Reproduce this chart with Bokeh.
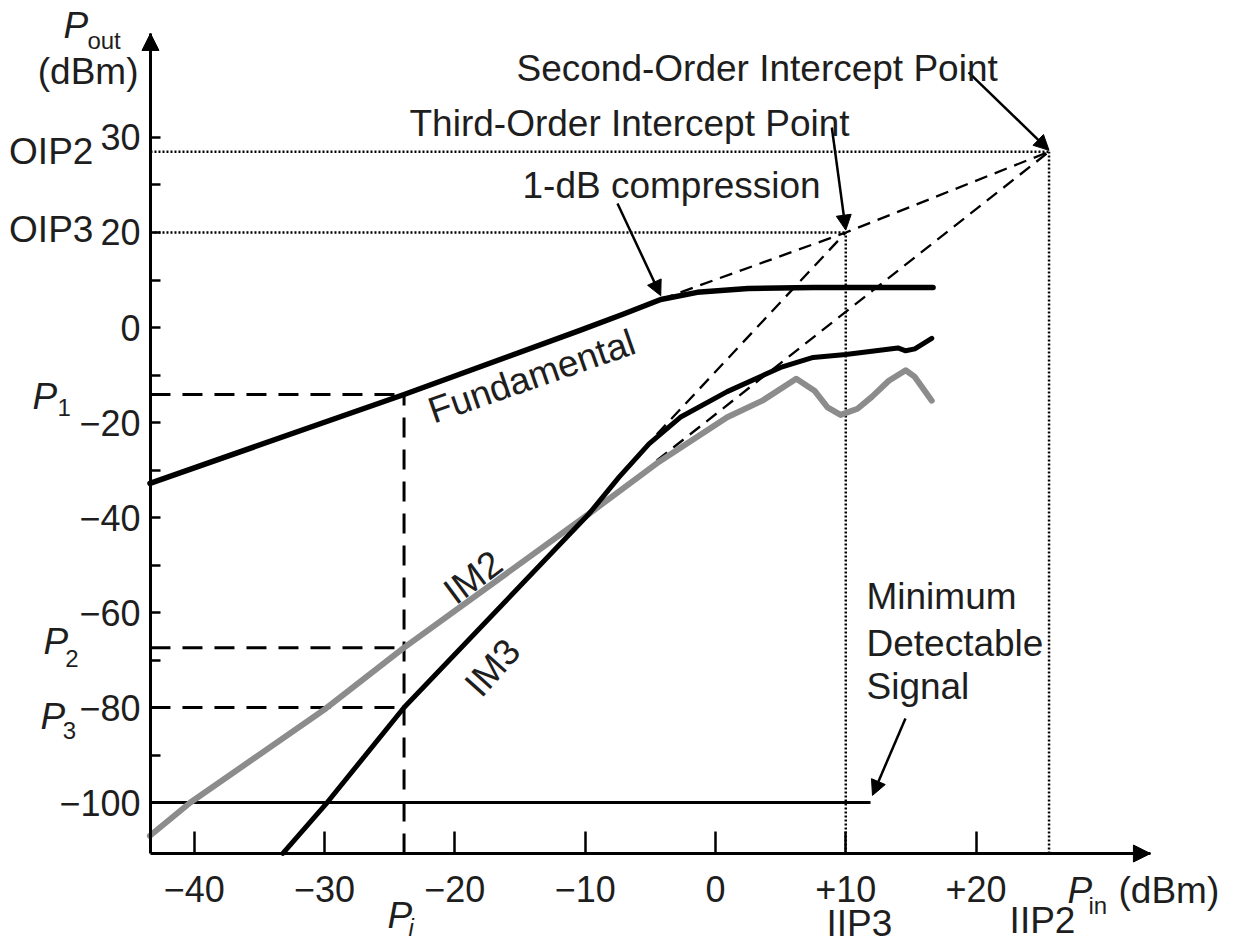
from bokeh.plotting import figure
from bokeh.models import Range1d, FixedTicker, Label, Arrow, NormalHead
from bokeh.embed import file_html
from bokeh.resources import INLINE

# ---------------- data (dBm) ----------------
fund_pin  = [-43.4, -23.9, -10.4, -7.1, -4.2, -1.4, 2.5, 7.5, 16.7]
fund_pout = [-32.8, -14.1, -0.6, 2.8, 5.9, 7.4, 8.2, 8.4, 8.4]

im2_pin  = [-43.4, -40.3, -29.9, -23.9, -9.7, -4.5, 0.9, 3.6, 6.2, 7.6, 8.6, 9.6,
            10.9, 12.0, 13.3, 14.6, 15.3, 16.6]
im2_pout = [-107.0, -100.0, -80.2, -67.4, -39.2, -28.6, -18.9, -15.4, -10.8, -13.3,
            -16.8, -18.4, -17.1, -14.6, -11.2, -9.0, -10.4, -15.4]

im3_pin  = [-33.2, -29.8, -23.9, -9.7, -7.4, -5.1, -2.7, 0.9, 5.0, 7.5, 10.0,
            14.0, 14.6, 15.3, 16.6]
im3_pout = [-110.7, -100.0, -80.0, -39.2, -31.5, -24.5, -18.9, -13.5, -8.4, -6.3,
            -5.7, -4.3, -4.9, -4.5, -2.3]

iip3, oip3 = 10.0, 20.0
iip2, oip2 = 25.6, 37.0
p_i = -23.9
p1, p2, p3 = -14.1, -67.4, -80.0
mds_level, mds_end = -100.0, 11.9
comp_pin, comp_pout = -4.2, 5.9
im3_ext_start = (-4.5, -22.5)
im2_ext_start = (-4.5, -28.0)

x_ticks = [-40, -30, -20, -10, 0, 10, 20]
x_tick_labels = ["\u221240", "\u221230", "\u221220", "\u221210", "0", "+10", "+20"]
y_ticks = [-100, -80, -60, -40, -20, 0, 20, 40]
y_tick_labels = ["\u2212100", "\u221280", "\u221260", "\u221240", "\u221220", "0", "20", "30"]
y_minor_ticks = [-90, -70, -50, -30, -10, 10, 30]

# extent of the drawn axes (data units) and of the whole canvas
x_lo, x_hi = -43.36, 33.38
y_lo, y_hi = -110.74, 61.9
canvas_x = (-54.87, 40.14)
canvas_y = (-130.1, 68.84)
Y_PER_PX = (canvas_y[1] - canvas_y[0]) / 945.0

FONT = "Liberation Sans"
TXT = "#1e1e1e"
BIG = 37
SMALL = 24

p = figure(width=1238, height=945, x_range=Range1d(*canvas_x), y_range=Range1d(*canvas_y),
           output_backend="svg", toolbar_location=None,
           min_border_left=0, min_border_right=0, min_border_top=0, min_border_bottom=0)
p.grid.visible = False
p.outline_line_color = None

# axes, drawn at fixed positions inside the canvas
p.yaxis.fixed_location = x_lo
p.xaxis.fixed_location = y_lo
p.yaxis.bounds = (y_lo, y_hi)
p.xaxis.bounds = (x_lo, x_hi)
for ax in (p.xaxis[0], p.yaxis[0]):
    ax.axis_line_width = 3
    ax.axis_line_color = "black"
    ax.major_tick_out = 0
    ax.minor_tick_out = 0
    ax.major_tick_line_width = 2.5
    ax.minor_tick_line_width = 2.5
    ax.major_tick_line_color = "black"
    ax.minor_tick_line_color = "black"
    ax.major_label_text_font = FONT
    ax.major_label_text_font_size = "36px"
    ax.major_label_text_color = TXT

p.xaxis.ticker = FixedTicker(ticks=x_ticks, minor_ticks=[])
p.xaxis.major_label_overrides = dict(zip(x_ticks, x_tick_labels))
p.xaxis.major_tick_in = 22
p.xaxis.major_label_standoff = 22

p.yaxis.ticker = FixedTicker(ticks=y_ticks, minor_ticks=y_minor_ticks)
p.yaxis.major_label_overrides = dict(zip(y_ticks, y_tick_labels))
p.yaxis.major_tick_in = 10
p.yaxis.minor_tick_in = 10
p.yaxis.major_label_standoff = 10

# axis arrowheads
p.add_layout(Arrow(x_start=x_lo, y_start=y_hi - 2, x_end=x_lo, y_end=y_hi, line_width=3,
                   end=NormalHead(size=17, fill_color="black", line_color="black", line_width=1)))
p.add_layout(Arrow(x_start=x_hi - 1, y_start=y_lo, x_end=x_hi, y_end=y_lo, line_width=3,
                   end=NormalHead(size=17, fill_color="black", line_color="black", line_width=1)))

# dotted intercept guides
dot = dict(line_color="black", line_width=2.5, line_dash="2 2")
p.line([x_lo, iip2], [oip2, oip2], **dot)
p.line([x_lo, iip3], [oip3, oip3], **dot)
p.line([iip3, iip3], [y_lo, oip3], **dot)
p.line([iip2, iip2], [y_lo, oip2], **dot)

# dashed level guides at P_i
dash = dict(line_color="black", line_width=3, line_dash="20 12")
p.line([x_lo, p_i], [p1, p1], **dash)
p.line([x_lo, p_i], [p2, p2], **dash)
p.line([x_lo, p_i], [p3, p3], **dash)
p.line([p_i, p_i], [y_lo, p1], **dash)

# extrapolation lines
ext = dict(line_color="black", line_width=2.3, line_dash="13 8")
p.line([comp_pin, iip3, iip2], [comp_pout, oip3, oip2], **ext)
p.line([im3_ext_start[0], iip3], [im3_ext_start[1], oip3], **ext)
p.line([im2_ext_start[0], iip2], [im2_ext_start[1], oip2], **ext)

# minimum detectable signal
p.line([x_lo, mds_end], [mds_level, mds_level], line_color="black", line_width=3)

# curves
p.line(im2_pin, im2_pout, line_color="#8c8c8c", line_width=6, line_join="round", line_cap="round")
p.line(im3_pin, im3_pout, line_color="black", line_width=5, line_join="round", line_cap="round")
p.line(fund_pin, fund_pout, line_color="black", line_width=5.5, line_join="round", line_cap="round")

# pointer arrows
def pointer(x0, y0, x1, y1):
    p.add_layout(Arrow(x_start=x0, y_start=y0, x_end=x1, y_end=y1, line_width=2.5, line_color="black",
                       end=NormalHead(size=15, fill_color="black", line_color="black", line_width=1)))

pointer(19.42, 53.7, iip2, oip2 + 0.3)
pointer(8.93, 42.1, iip3, oip3 + 0.5)
pointer(-7.52, 26.1, comp_pin, comp_pout + 0.8)
pointer(14.58, -82.3, 12.05, -98.5)

def label(x, y, text, size=BIG, align="left", baseline="alphabetic", angle=0.0, style="normal"):
    if baseline == "alphabetic":
        # compensate the renderer's lower placement of the alphabetic baseline
        y = y + 0.32 * size * Y_PER_PX
    p.add_layout(Label(x=x, y=y, text=text, text_font=FONT, text_font_size=f"{size}px",
                       text_color=TXT, text_align=align, text_baseline=baseline,
                       angle=angle, text_font_style=style))

# annotation texts
label(-15.27, 52.0, "Second-Order Intercept Point")
label(-23.48, 40.4, "Third-Order Intercept Point")
label(-14.81, 27.4, "1-dB compression")
label(11.59, -59.2, "Minimum")
label(11.59, -69.1, "Detectable")
label(11.59, -78.1, "Signal")
label(-14.1, -10.3, "Fundamental", align="center", baseline="middle", angle=0.335)
label(-18.6, -52.6, "IM2", align="center", baseline="middle", angle=0.64)
label(-17.1, -71.6, "IM3", align="center", baseline="middle", angle=0.84)

# y-side labels
label(-47.74, 34.5, "OIP2", align="right")
label(-47.74, 18.1, "OIP3", align="right")
label(-52.42, -17.05, "P", style="italic")
label(-50.5, -18.5, "1", size=SMALL)
label(-51.57, -68.6, "P", style="italic")
label(-49.9, -71.2, "2", size=SMALL)
label(-51.8, -84.4, "P", style="italic")
label(-50.1, -86.5, "3", size=SMALL)
label(-50.04, 61.05, "P", style="italic")
label(-48.2, 58.9, "out", size=SMALL)
label(-44.28, 51.4, "(dBm)", align="right")

# x-side labels
label(-25.17, -126.3, "P", style="italic")
label(-23.56, -128.0, "i", size=SMALL, style="italic")
label(27.01, -121.05, "P", style="italic")
label(28.63, -123.4, "in", size=SMALL)
label(30.93, -121.05, "(dBm)")
label(11.05, -127.9, "IIP3", align="center")
label(25.1, -127.4, "IIP2", align="center")

open("out.html", "w").write(file_html(p, INLINE))
